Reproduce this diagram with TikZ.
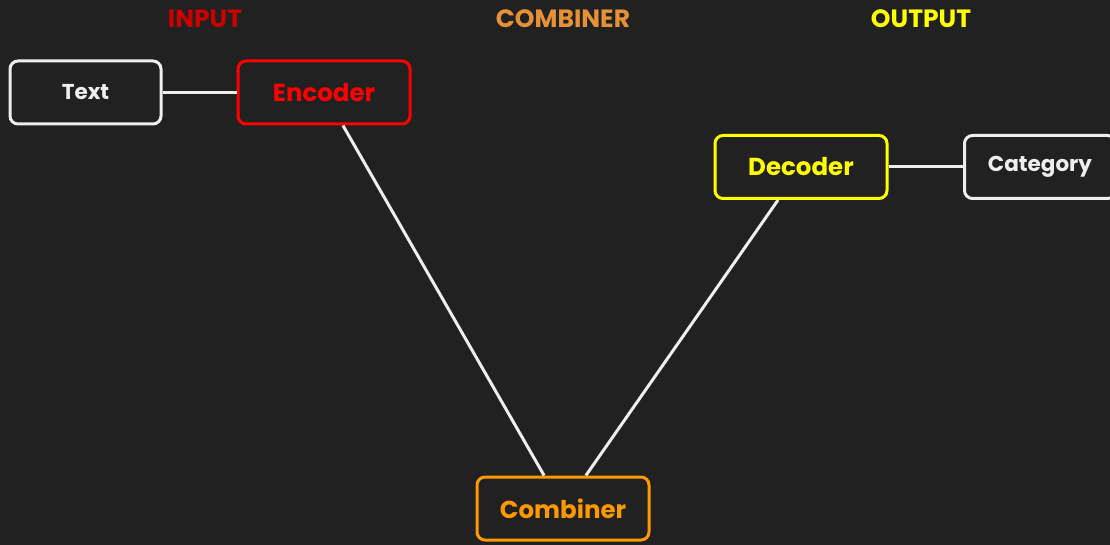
\documentclass[tikz,border=0pt]{standalone}
\usepackage{fontspec}
\setmainfont{Poppins}
\definecolor{bg}{HTML}{212121}
\definecolor{boxwhite}{HTML}{EEEEEE}
\definecolor{encred}{HTML}{FF0000}
\definecolor{decyellow}{HTML}{FFFF00}
\definecolor{combor}{HTML}{FF9900}
\definecolor{hdrred}{HTML}{CC0000}
\definecolor{hdrorange}{HTML}{E69138}
\tikzset{
  blockbox/.style={draw, line width=3pt, rounded corners=8pt, fill=bg,
    minimum width=#1, minimum height=63pt, inner sep=0pt, font=\bfseries\fontsize{24.5}{28}\selectfont},
  blockbox/.default=172pt,
  plainbox/.style={blockbox=151pt, draw=boxwhite, text=boxwhite, font=\bfseries\fontsize{21.5}{25}\selectfont},
  header/.style={font=\bfseries\fontsize{25}{29}\selectfont},
  link/.style={draw=boxwhite, line width=3pt}
}
\begin{document}
\begin{tikzpicture}[x=1pt, y=-1pt]
  \fill[bg] (0,0) rectangle (1110,545);
  \useasboundingbox (0,0) rectangle (1110,545);
  \clip (0,0) rectangle (1110,545);

  % column headings
  \node[header, text=hdrred] (hin) at (205,19) {INPUT};
  \node[header, text=hdrorange] (hcomb) at (563,19) {COMBINER};
  \node[header, text=decyellow] (hout) at (921,19) {OUTPUT};

  % blocks
  \node[plainbox] (txt) at (85.5,92.5) {Text};
  \node[blockbox, draw=encred, text=encred] (enc) at (324,92.5) {Encoder};
  \node[blockbox, draw=decyellow, text=decyellow] (dec) at (801,167) {Decoder};
  \node[plainbox] (cat) at (1040,167) {Category};
  \node[blockbox, draw=combor, text=combor] (comb) at (563,508.5) {Combiner};

  % connectors
  \draw[link] (txt) -- (enc);
  \draw[link] (enc) -- (comb);
  \draw[link] (dec) -- (comb);
  \draw[link] (dec) -- (cat);
\end{tikzpicture}
\end{document}
